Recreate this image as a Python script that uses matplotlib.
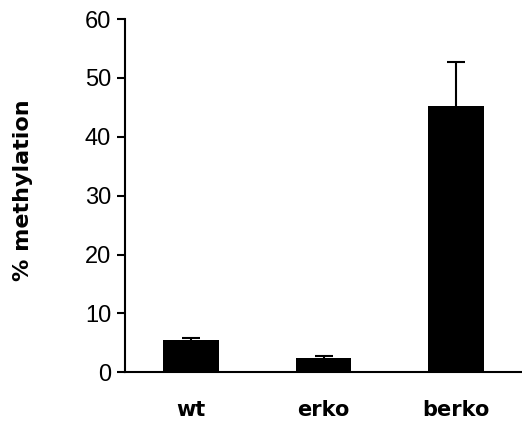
import numpy as np
import matplotlib
matplotlib.use('Agg')
import matplotlib.pyplot as plt

# data
groups = ['wt', 'erko', 'berko']
methylation = [5.4, 2.4, 45.3]
methylation_err = [0.5, 0.3, 7.4]

plt.rcParams['font.family'] = ['Liberation Sans', 'DejaVu Sans']

fig = plt.figure(figsize=(5.22, 4.23), dpi=100)
ax = fig.add_axes([0.2395, 0.12, 0.7605, 0.835])

x = np.arange(len(groups))
ax.bar(x, methylation, width=0.42, color='black', zorder=2)
eb = ax.errorbar(x, methylation, yerr=[np.zeros(len(groups)), methylation_err],
                 fmt='none', ecolor='black', elinewidth=1.5, capsize=6.8,
                 capthick=1.5, zorder=1)
# only the upper cap is drawn in the original
eb[1][0].remove()

ax.set_xlim(-0.5, 2.5)
ax.set_ylim(0, 60)
ax.set_yticks(range(0, 61, 10))
ax.set_xticks(x)
ax.set_xticklabels(groups, fontsize=15, fontweight='bold', family='DejaVu Sans')
ax.tick_params(axis='x', length=0, pad=20)
ax.tick_params(axis='y', length=6, width=1.5, direction='out', labelsize=17, pad=4)

for side in ['top', 'right']:
    ax.spines[side].set_visible(False)
for side in ['left', 'bottom']:
    ax.spines[side].set_linewidth(1.5)

ax.set_ylabel('% methylation', fontsize=16, fontweight='bold', family='DejaVu Sans')
ax.yaxis.set_label_coords(-0.232, 0.516)

fig.savefig('out.png', dpi=100)
